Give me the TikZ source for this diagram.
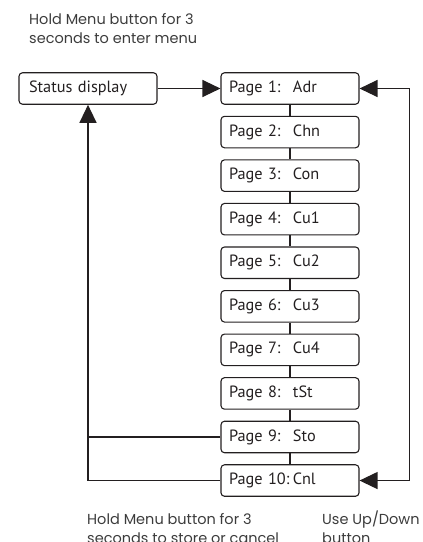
\documentclass[tikz,border=0pt]{standalone}
\usepackage{fontspec}
\usetikzlibrary{arrows.meta}
\newfontfamily\boxfont{PT Sans}
\newfontfamily\notefont{Poppins}
\definecolor{ink}{HTML}{231F20}
\definecolor{note}{HTML}{3C3C3C}
\tikzset{
  pagebox/.style={draw=ink, line width=1.1pt, rounded corners=3.5pt, minimum height=31.5pt,
    text width=122pt, inner xsep=8pt, inner ysep=0pt, align=left, text=ink,
    font=\boxfont\fontsize{16.3}{18}\selectfont},
  statbox/.style={pagebox, text width=118pt, inner xsep=10pt},
  link/.style={draw=ink, line width=1.2pt},
  arr/.style={link, -{Triangle[length=18pt,width=17pt]}},
  arrboth/.style={link, {Triangle[length=18pt,width=17pt]}-{Triangle[length=18pt,width=17pt]}},
  notetext/.style={align=left, text=note, inner sep=0pt, font=\notefont\fontsize{14.5}{19}\selectfont}
}
\newcommand{\pg}[2]{\makebox[64pt][l]{Page #1:}#2}
\begin{document}
\begin{tikzpicture}[x=1pt,y=-1pt]
\useasboundingbox (0,0) rectangle (423,542);
\node[notetext, anchor=base west] (topnote) at (29,43.3) {Hold Menu button for 3\\seconds to enter menu};
\node[statbox] (status) at (88,88.5) {Status display};
\node[pagebox] (p1) at (290,88.5) {\pg{1}{Adr}};
\node[pagebox] (p2) at (290,132.06) {\pg{2}{Chn}};
\node[pagebox] (p3) at (290,175.62) {\pg{3}{Con}};
\node[pagebox] (p4) at (290,219.18) {\pg{4}{Cu1}};
\node[pagebox] (p5) at (290,262.74) {\pg{5}{Cu2}};
\node[pagebox] (p6) at (290,306.3) {\pg{6}{Cu3}};
\node[pagebox] (p7) at (290,349.86) {\pg{7}{Cu4}};
\node[pagebox] (p8) at (290,393.42) {\pg{8}{tSt}};
\node[pagebox] (p9) at (290,436.98) {\pg{9}{Sto}};
\node[pagebox] (p10) at (290,480.54) {\makebox[64pt][l]{Page 10:}Cnl};
\node[notetext, anchor=base west] (bottomnote) at (87,543) {Hold Menu button for 3\\seconds to store or cancel};
\node[notetext, anchor=base west] (updown) at (322,543) {Use Up/Down\\button};
\foreach \a/\b in {p1/p2,p2/p3,p3/p4,p4/p5,p5/p6,p6/p7,p7/p8,p8/p9,p9/p10}
  \draw[link] (\a.south) -- (\b.north);
\draw[arr] (status.east) -- (p1.west);
\draw[arrboth] (p1.east) -- ++(50,0) |- (p10.east);
\draw[arr] (p10.west) -| (status.south);
\coordinate (j9) at (status.south |- p9.west);
\draw[link] (p9.west) -- (j9);
\end{tikzpicture}
\end{document}
